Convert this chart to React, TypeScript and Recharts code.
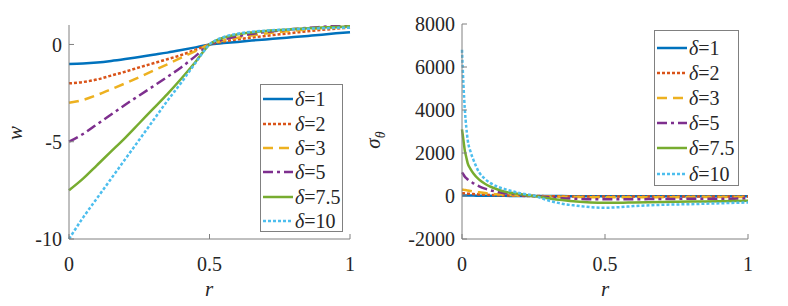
import { LineChart, Line, XAxis, YAxis, Legend } from 'recharts'

// r grid for the w(r) panel
const rW = [0, 0.05, 0.1, 0.15, 0.2, 0.25, 0.3, 0.35, 0.4, 0.45, 0.5, 0.55, 0.6, 0.65, 0.7, 0.75, 0.8, 0.85, 0.9, 0.95, 1]
const w1 = [-1, -0.98, -0.93, -0.85, -0.75, -0.64, -0.53, -0.42, -0.29, -0.15, 0, 0.07, 0.13, 0.2, 0.26, 0.32, 0.38, 0.44, 0.5, 0.57, 0.63]
const w2 = [-2, -1.93, -1.8, -1.6, -1.4, -1.18, -0.97, -0.76, -0.54, -0.28, 0, 0.15, 0.26, 0.35, 0.44, 0.52, 0.6, 0.68, 0.75, 0.81, 0.87]
const w3 = [-3, -2.85, -2.6, -2.3, -2.0, -1.68, -1.35, -1.02, -0.68, -0.34, 0, 0.2, 0.34, 0.46, 0.56, 0.64, 0.71, 0.77, 0.83, 0.88, 0.92]
const w5 = [-5, -4.6, -4.1, -3.6, -3.1, -2.62, -2.15, -1.67, -1.17, -0.6, 0, 0.25, 0.42, 0.54, 0.64, 0.72, 0.79, 0.85, 0.9, 0.95, 1.0]
const w75 = [-7.5, -6.9, -6.2, -5.5, -4.8, -4.05, -3.3, -2.55, -1.75, -0.9, 0, 0.35, 0.52, 0.62, 0.69, 0.74, 0.79, 0.83, 0.87, 0.9, 0.93]
const w10 = [-10, -8.9, -7.9, -6.9, -5.9, -4.9, -3.9, -2.9, -1.95, -0.95, 0, 0.38, 0.55, 0.65, 0.71, 0.75, 0.78, 0.81, 0.83, 0.85, 0.86]

// r grid for the sigma_theta panel (dense near r = 0)
const rS = [0, 0.005, 0.01, 0.015, 0.02, 0.03, 0.04, 0.06, 0.08, 0.1, 0.125, 0.15, 0.2, 0.25, 0.3, 0.35, 0.4, 0.45, 0.5, 0.55, 0.6, 0.7, 0.8, 0.9, 1]
const s1 = [25, 24, 23, 22, 21, 20, 18, 15, 12, 10, 8, 6, 3, 0, -3, -5, -7, -8, -9, -9, -9, -8, -8, -8, -8]
const s2 = [130, 125, 120, 115, 110, 100, 90, 75, 60, 45, 35, 25, 10, 0, -8, -15, -20, -25, -27, -27, -26, -25, -24, -23, -22]
const s3 = [300, 290, 280, 270, 255, 235, 210, 170, 135, 105, 80, 55, 20, 0, -20, -35, -45, -55, -60, -60, -58, -55, -52, -50, -48]
const s5 = [1100, 1000, 900, 830, 770, 670, 590, 450, 340, 260, 190, 130, 60, 0, -50, -100, -130, -150, -155, -155, -150, -140, -130, -125, -120]
const s75 = [3100, 2600, 2100, 1800, 1520, 1250, 1050, 760, 570, 430, 300, 200, 90, 0, -100, -190, -260, -300, -315, -315, -300, -280, -260, -240, -220]
const s10 = [6800, 5200, 4000, 3200, 2600, 2050, 1680, 1100, 800, 600, 430, 320, 140, 20, -200, -360, -450, -520, -545, -520, -470, -410, -380, -340, -300]

const deltas = ['1', '2', '3', '5', '7.5', '10']
const keys = ['d1', 'd2', 'd3', 'd5', 'd75', 'd10']
const rTicks = [0, 0.5, 1]
const wTicks = [-10, -5, 0]
const sTicks = [-2000, 0, 2000, 4000, 6000, 8000]

const colors = ['#0072BD', '#D95319', '#EDB120', '#7E2F8E', '#77AC30', '#4DBEEE']
const dashes = ['', '3 2', '10 6', '10 4 3 4', '', '3 2']

const wData = rW.map((r, i) => ({ r, d1: w1[i], d2: w2[i], d3: w3[i], d5: w5[i], d75: w75[i], d10: w10[i] }))
const sData = rS.map((r, i) => ({ r, d1: s1[i], d2: s2[i], d3: s3[i], d5: s5[i], d75: s75[i], d10: s10[i] }))

const FONT = 'Liberation Serif, Tinos, Times New Roman, DejaVu Serif, serif'
const AXIS = '#808080'
const TEXT = '#262626'
const tickStyle = { fontSize: 20, fill: TEXT, fontFamily: FONT }

function DeltaLegend({ width, height, rowH, padTop }: { width: number; height: number; rowH: number; padTop: number }) {
  return (
    <div
      style={{
        width,
        height,
        boxSizing: 'border-box',
        border: `1px solid ${AXIS}`,
        background: '#fff',
        paddingTop: padTop,
        fontFamily: FONT,
      }}
    >
      {deltas.map((d, i) => (
        <div key={d} style={{ display: 'flex', alignItems: 'center', height: rowH }}>
          <svg width={33} height={10} style={{ flex: 'none' }}>
            <line x1={2} x2={32} y1={5} y2={5} stroke={colors[i]} strokeWidth={2.5} strokeDasharray={dashes[i] || undefined} />
          </svg>
          <span style={{ fontSize: 20, lineHeight: 1, color: TEXT, marginLeft: 1, whiteSpace: 'nowrap', fontFamily: FONT }}>
            <i>δ</i>=
            {d}
          </span>
        </div>
      ))}
    </div>
  )
}

function Panel({
  data,
  yDomain,
  yTicks,
  margin,
  legend,
}: {
  data: Record<string, number>[]
  yDomain: [number, number]
  yTicks: number[]
  margin: { top: number; right: number; bottom: number; left: number }
  legend: { left: number; top: number; width: number; height: number; rowH: number; padTop: number }
}) {
  return (
    <LineChart width={394} height={306} data={data} margin={margin}>
      <XAxis
        dataKey="r"
        type="number"
        domain={[0, 1]}
        ticks={rTicks}
        interval={0}
        height={30}
        stroke={AXIS}
        tickSize={-5}
        tickMargin={23}
        tick={tickStyle}
      />
      <XAxis
        xAxisId="top"
        orientation="top"
        type="number"
        domain={[0, 1]}
        ticks={rTicks}
        interval={0}
        height={0}
        stroke={AXIS}
        tickSize={-5}
        tickFormatter={() => ''}
      />
      <YAxis
        type="number"
        domain={yDomain}
        ticks={yTicks}
        interval={0}
        width={50}
        stroke={AXIS}
        tickSize={-5}
        tickMargin={12}
        tick={tickStyle}
        allowDataOverflow
      />
      <YAxis
        yAxisId="right"
        orientation="right"
        type="number"
        domain={yDomain}
        ticks={yTicks}
        interval={0}
        width={0}
        stroke={AXIS}
        tickSize={-5}
        tickFormatter={() => ''}
      />
      {keys.map((k, i) => (
        <Line
          key={k}
          dataKey={k}
          type="monotone"
          stroke={colors[i]}
          strokeWidth={2.5}
          strokeDasharray={dashes[i] || undefined}
          dot={false}
          activeDot={false}
          isAnimationActive={false}
        />
      ))}
      <Legend
        layout="vertical"
        align="center"
        verticalAlign="middle"
        wrapperStyle={{ left: legend.left, top: legend.top, width: legend.width, height: legend.height }}
        content={() => (
          <DeltaLegend width={legend.width} height={legend.height} rowH={legend.rowH} padTop={legend.padTop} />
        )}
      />
    </LineChart>
  )
}

export default function App() {
  return (
    <div style={{ position: 'absolute', left: 0, top: 0, width: 788, height: 306, background: '#fff', fontFamily: FONT }}>
      <div style={{ position: 'absolute', left: 0, top: 0 }}>
        <Panel
          data={wData}
          yDomain={[-10, 1]}
          yTicks={wTicks}
          margin={{ top: 25, right: 44, bottom: 37, left: 19 }}
          legend={{ left: 260, top: 84, width: 83, height: 148, rowH: 24.4, padTop: 2 }}
        />
      </div>
      <div style={{ position: 'absolute', left: 394, top: 0 }}>
        <Panel
          data={sData}
          yDomain={[-2000, 8000]}
          yTicks={sTicks}
          margin={{ top: 24, right: 40, bottom: 37, left: 18 }}
          legend={{ left: 260, top: 30, width: 85, height: 156, rowH: 25.2, padTop: 4 }}
        />
      </div>
      <svg width={788} height={306} style={{ position: 'absolute', left: 0, top: 0, pointerEvents: 'none' }}>
        <text x={15} y={133} transform="rotate(-90 15 133)" textAnchor="middle" dominantBaseline="central" fontSize={21} fontStyle="italic" fill={TEXT} fontFamily={FONT}>
          w
        </text>
        <text x={380} y={140} transform="rotate(-90 380 140)" textAnchor="middle" fontSize={21} fill={TEXT} fontFamily={FONT}>
          <tspan fontStyle="italic">σ</tspan>
          <tspan fontSize={14} dy={5} fontStyle="italic">θ</tspan>
        </text>
        <text x={209} y={296} textAnchor="middle" fontSize={21} fontStyle="italic" fill={TEXT} fontFamily={FONT}>
          r
        </text>
        <text x={605} y={296} textAnchor="middle" fontSize={21} fontStyle="italic" fill={TEXT} fontFamily={FONT}>
          r
        </text>
      </svg>
    </div>
  )
}
